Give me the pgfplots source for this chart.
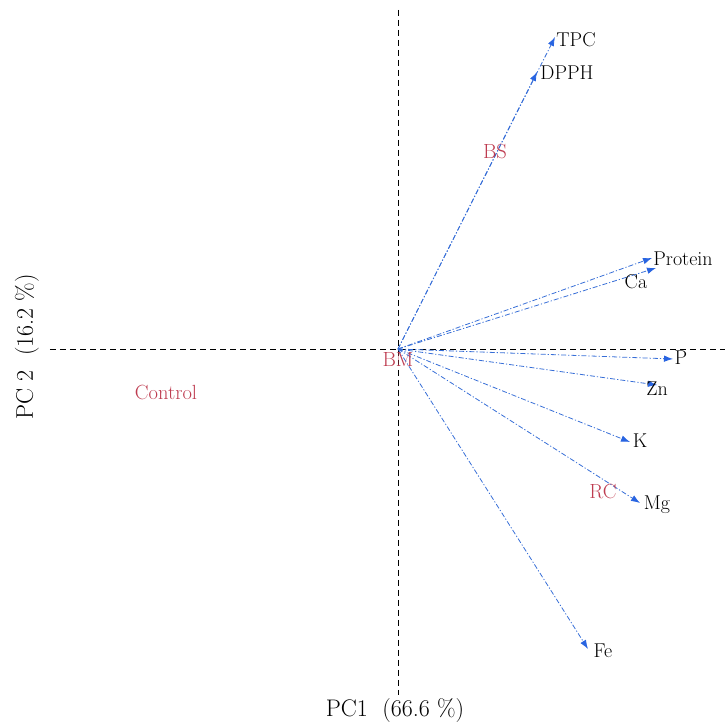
\documentclass[border=0pt]{standalone}
\usepackage{pgfplots}
\pgfplotsset{compat=1.18}
\usetikzlibrary{arrows.meta}
\definecolor{arr}{RGB}{55,110,215}
\definecolor{arrh}{RGB}{40,100,225}
\definecolor{smp}{RGB}{190,60,80}
\begin{document}
\begin{tikzpicture}
\begin{axis}[
 scale only axis, width=675pt, height=685pt,
 xmin=-348, xmax=327, ymin=-346, ymax=339,
 axis lines=none, clip=false,
 arrw/.style={arr, line width=0.8pt, dash pattern=on 5pt off 2pt on 1.2pt off 2pt, -{Latex[length=9pt,width=6.5pt,color=arrh]}},
]
% invisible frame for picture bounds
\addplot[draw=none] coordinates {(-398,-379) (327,349)};
% dashed axes through origin
\addplot[black, line width=0.9pt, dash pattern=on 6pt off 4pt] coordinates {(-348,0) (327,0)};
\addplot[black, line width=0.9pt, dash pattern=on 6pt off 4pt] coordinates {(0,339) (0,-346)};
% loadings
\addplot[arrw] coordinates {(0,0) (157,312)};
\addplot[arrw] coordinates {(0,0) (139,277)};
\addplot[arrw] coordinates {(0,0) (254,91)};
\addplot[arrw] coordinates {(0,0) (258,81)};
\addplot[arrw] coordinates {(0,0) (275,-10)};
\addplot[arrw] coordinates {(0,0) (259,-36)};
\addplot[arrw] coordinates {(0,0) (232,-93)};
\addplot[arrw] coordinates {(0,0) (242,-154)};
\addplot[arrw] coordinates {(0,0) (190,-300)};
% variable labels
\addplot[draw=none, mark=none, nodes near coords, point meta=explicit symbolic,
 nodes near coords style={anchor=center, inner sep=0pt, text=black, font=\fontsize{20}{23}\selectfont}]
 table[meta=label] {
x y label
178 309 TPC
169 276 DPPH
285 90 Protein
238 67 Ca
283 -9 P
259 -40 Zn
242 -92 K
259 -156 Mg
205 -302 Fe
};
% sample labels
\addplot[draw=none, mark=none, nodes near coords, point meta=explicit symbolic,
 nodes near coords style={anchor=center, inner sep=0pt, text=smp, font=\fontsize{20.5}{23}\selectfont}]
 table[meta=label] {
x y label
97 197 BS
0 -11 BM
205 -143 RC
-232 -44 Control
};
% axis titles
\addplot[draw=none, mark=none, nodes near coords={PC1\ \ (66.6~\%)},
 nodes near coords style={anchor=center, inner sep=0pt, text=black, font=\fontsize{24}{27}\selectfont}]
 coordinates {(-3,-362)};
\addplot[draw=none, mark=none, nodes near coords={PC~2~~(16.2~\%)},
 nodes near coords style={anchor=center, rotate=90, inner sep=0pt, text=black, font=\fontsize{24}{27}\selectfont}]
 coordinates {(-371,2)};
\end{axis}
\end{tikzpicture}
\end{document}
